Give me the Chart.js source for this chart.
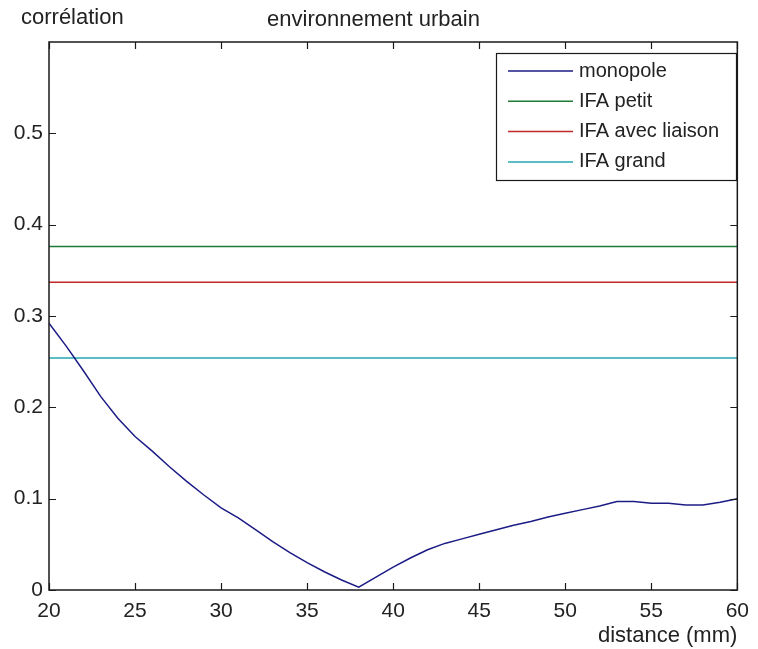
<!DOCTYPE html>
<html>
<head>
<meta charset="utf-8">
<script src="https://cdn.jsdelivr.net/npm/chart.js@4/dist/chart.umd.min.js"></script>
<style>
  html, body { margin: 0; padding: 0; background: #ffffff; }
  #wrap { width: 758px; height: 649px; }
</style>
</head>
<body>
<div id="wrap"><canvas id="c" width="758" height="649"></canvas></div>
<script>
// ---- data ----
const distances = [20,21,22,23,24,25,26,27,28,29,30,31,32,33,34,35,36,37,38,39,40,41,42,43,44,45,46,47,48,49,50,51,52,53,54,55,56,57,58,59,60];
const monopole  = [0.292,0.267,0.240,0.212,0.188,0.168,0.152,0.135,0.119,0.104,0.090,0.079,0.066,0.053,0.041,0.030,0.020,0.011,0.003,0.014,0.025,0.035,0.044,0.051,0.056,0.061,0.066,0.071,0.075,0.080,0.084,0.088,0.092,0.097,0.097,0.095,0.095,0.093,0.093,0.096,0.100];
const ifaPetit = 0.376;
const ifaLiaison = 0.337;
const ifaGrand = 0.254;
const seriesLabels = ['monopole', 'IFA petit', 'IFA avec liaison', 'IFA grand'];
const xTicks = [20,25,30,35,40,45,50,55,60];
const yTicks = [0,0.1,0.2,0.3,0.4,0.5];
const titleText = 'environnement urbain';
const yLabel = 'corrélation';
const xLabel = 'distance (mm)';

const colors = ['#1c1c86', '#1f7a35', '#c02828', '#24a9b2'];
const FONT = "'Liberation Sans', Arial, sans-serif";

function flat(v) { return [{x: distances[0], y: v}, {x: distances[distances.length-1], y: v}]; }

const datasets = [
  { label: seriesLabels[0], data: distances.map((d,i)=>({x:d, y:monopole[i]})) },
  { label: seriesLabels[1], data: flat(ifaPetit) },
  { label: seriesLabels[2], data: flat(ifaLiaison) },
  { label: seriesLabels[3], data: flat(ifaGrand) }
].map((d,i)=>Object.assign(d, {
  borderColor: colors[i], backgroundColor: colors[i], borderWidth: 1.5,
  pointRadius: 0, tension: 0, fill: false
}));

const decor = {
  id: 'decor',
  afterDatasetsDraw(chart) {
    const ctx = chart.ctx, a = chart.chartArea;
    const xs = chart.scales.x, ys = chart.scales.y;
    ctx.save();
    ctx.strokeStyle = '#1a1a1a';
    ctx.lineWidth = 1.5;
    ctx.strokeRect(a.left, a.top, a.right - a.left, a.bottom - a.top);
    ctx.lineWidth = 1.2;
    const tl = 7;
    ctx.beginPath();
    xTicks.forEach(v => {
      const px = Math.round(xs.getPixelForValue(v)) + 0.5;
      ctx.moveTo(px, a.bottom); ctx.lineTo(px, a.bottom - tl);
      ctx.moveTo(px, a.top); ctx.lineTo(px, a.top + tl);
    });
    yTicks.forEach(v => {
      const py = Math.round(ys.getPixelForValue(v)) + 0.5;
      ctx.moveTo(a.left, py); ctx.lineTo(a.left + tl, py);
      ctx.moveTo(a.right, py); ctx.lineTo(a.right - tl, py);
    });
    ctx.stroke();

    // y label (horizontal, top-left)
    ctx.fillStyle = '#222';
    ctx.font = '22px ' + FONT;
    ctx.textAlign = 'left';
    ctx.textBaseline = 'middle';
    ctx.fillText(yLabel, 21, 18);

    // legend box inside plot
    const bx = 496, by = 53, bw = 240, bh = 127;
    ctx.fillStyle = '#ffffff';
    ctx.fillRect(bx, by, bw, bh);
    ctx.strokeStyle = '#1a1a1a';
    ctx.lineWidth = 1.2;
    ctx.strokeRect(bx + 0.5, by + 0.5, bw, bh);
    ctx.font = '20px ' + FONT;
    chart.data.datasets.forEach((ds, i) => {
      const y = 71 + i * 30.3;
      ctx.strokeStyle = ds.borderColor;
      ctx.lineWidth = 1.5;
      ctx.beginPath();
      ctx.moveTo(508, y); ctx.lineTo(573, y);
      ctx.stroke();
      ctx.fillStyle = '#222';
      ctx.fillText(ds.label, 579, y);
    });
    ctx.restore();
  }
};

new Chart(document.getElementById('c'), {
  type: 'line',
  data: { datasets },
  plugins: [decor],
  options: {
    responsive: false,
    animation: false,
    layout: { padding: { left: 0, right: 11, top: 0, bottom: 0 } },
    plugins: {
      legend: { display: false },
      tooltip: { enabled: false },
      title: {
        display: true, text: titleText, color: '#222',
        font: { family: FONT, size: 22, weight: 'normal' },
        padding: { top: 7, bottom: 8.6 }
      }
    },
    scales: {
      x: {
        type: 'linear', min: 20, max: 60,
        afterBuildTicks: s => { s.ticks = xTicks.map(v => ({value: v})); },
        afterFit: s => { s.height = 59; },
        grid: { display: false, drawTicks: false },
        border: { display: false },
        ticks: {
          color: '#222', font: { family: FONT, size: 21 }, padding: 9,
          maxRotation: 0, autoSkip: false,
          callback: v => String(v)
        },
        title: {
          display: true, text: xLabel, align: 'end', color: '#222',
          font: { family: FONT, size: 22 }, padding: { top: 0, bottom: 0 }
        }
      },
      y: {
        type: 'linear', min: 0, max: 0.6,
        afterBuildTicks: s => { s.ticks = yTicks.map(v => ({value: v})); },
        afterFit: s => { s.width = 49; },
        grid: { display: false, drawTicks: false },
        border: { display: false },
        ticks: {
          color: '#222', font: { family: FONT, size: 21 }, padding: 6,
          callback: v => (v === 0 ? '0' : v.toFixed(1))
        }
      }
    }
  }
});
</script>
</body>
</html>
